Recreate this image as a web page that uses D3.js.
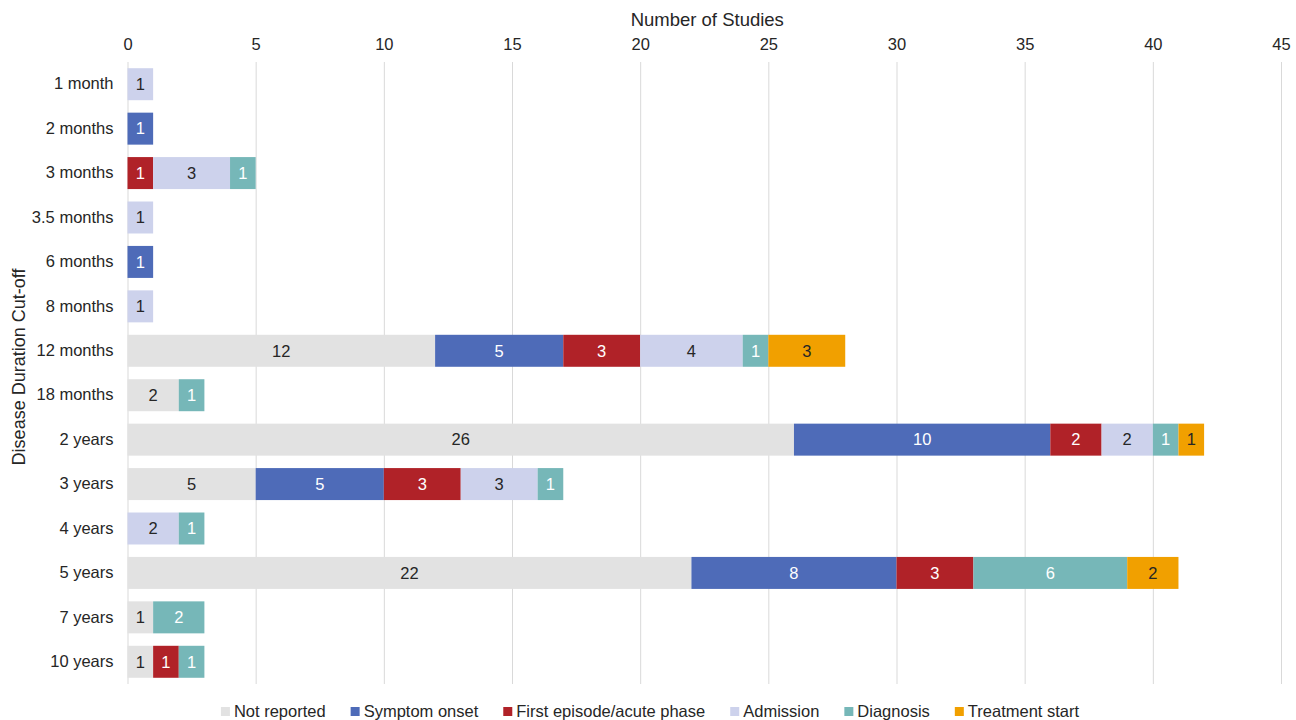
<!DOCTYPE html>
<html>
<head>
<meta charset="utf-8">
<script src="https://cdn.jsdelivr.net/npm/d3@7"></script>
<style>
  body { margin: 0; background: #fff; }
  text { font-family: 'Liberation Sans', Arial, sans-serif; }
</style>
</head>
<body>
<svg id="chart" width="1296" height="720"></svg>
<script>
// categories (top to bottom)
const categories = ['1 month', '2 months', '3 months', '3.5 months', '6 months', '8 months',
  '12 months', '18 months', '2 years', '3 years', '4 years', '5 years', '7 years', '10 years']

const seriesNames = ['Not reported', 'Symptom onset', 'First episode/acute phase', 'Admission', 'Diagnosis', 'Treatment start']

const notReported  = [0, 0, 0, 0, 0, 0, 12, 2, 26, 5, 0, 22, 1, 1]
const symptomOnset = [0, 1, 0, 0, 1, 0, 5, 0, 10, 5, 0, 8, 0, 0]
const firstEpisode = [0, 0, 1, 0, 0, 0, 3, 0, 2, 3, 0, 3, 0, 1]
const admission    = [1, 0, 3, 1, 0, 1, 4, 0, 2, 3, 2, 0, 0, 0]
const diagnosis    = [0, 0, 1, 0, 0, 0, 1, 1, 1, 1, 1, 6, 2, 1]
const treatment    = [0, 0, 0, 0, 0, 0, 3, 0, 1, 0, 0, 2, 0, 0]

const xTicks = [0, 5, 10, 15, 20, 25, 30, 35, 40, 45]

const colors = ['#e2e2e2', '#4e6bb8', '#b02228', '#cdd2ec', '#76b7b8', '#f1a000']
const labelColors = ['#262626', '#ffffff', '#ffffff', '#262626', '#ffffff', '#262626']

const seriesValues = [notReported, symptomOnset, firstEpisode, admission, diagnosis, treatment]

let rows = categories.map((c, i) => {
  let row = { cat: c }
  seriesNames.forEach((s, j) => { row[s] = seriesValues[j][i] })
  return row
})

let margin = { top: 62, right: 15, bottom: 36, left: 127.5 }
let fs = '16.5px'

let svg = d3.select('#chart')
let g = svg.append('g').attr('transform', 'translate(' + margin.left + ',' + margin.top + ')')

let xScale = d3.scaleLinear().domain([0, 45]).range([0, 1153.5])
let yScale = d3.scaleBand().domain(categories).range([0, 622]).paddingInner(0.28).paddingOuter(0.14)

// gridlines
g.selectAll('.grid')
  .data(xTicks)
  .enter()
  .append('line')
  .attr('x1', (d) => xScale(d) + 0.5)
  .attr('x2', (d) => xScale(d) + 0.5)
  .attr('y1', 0)
  .attr('y2', 622)
  .attr('stroke', '#d9d9d9')
  .attr('stroke-width', 1)

// top axis
let xAxis = d3.axisTop(xScale).tickValues(xTicks).tickSize(0).tickPadding(12)
let xg = g.append('g').call(xAxis)
xg.select('.domain').remove()
xg.selectAll('text').attr('font-size', fs).attr('fill', '#262626')
  .style('font-family', "'Liberation Sans', Arial, sans-serif")

// left axis
let yAxis = d3.axisLeft(yScale).tickSize(0).tickPadding(14)
let yg = g.append('g').call(yAxis)
yg.select('.domain').remove()
yg.selectAll('text').attr('font-size', fs).attr('fill', '#262626')
  .style('font-family', "'Liberation Sans', Arial, sans-serif")

let stack = d3.stack().keys(seriesNames)
let stacked = stack(rows)

let layers = g.selectAll('.layer')
  .data(stacked)
  .enter()
  .append('g')
  .attr('class', 'layer')

layers.selectAll('rect')
  .data((d) => d.filter((p) => p[1] > p[0]))
  .enter()
  .append('rect')
  .attr('x', (d) => xScale(d[0]))
  .attr('y', (d) => yScale(d.data.cat))
  .attr('width', (d) => xScale(d[1]) - xScale(d[0]))
  .attr('height', yScale.bandwidth())
  .attr('fill', function () { return colors[d3.select(this.parentNode).datum().index] })

layers.selectAll('text')
  .data((d) => d.filter((p) => p[1] > p[0]))
  .enter()
  .append('text')
  .attr('x', (d) => (xScale(d[0]) + xScale(d[1])) / 2)
  .attr('y', (d) => yScale(d.data.cat) + yScale.bandwidth() / 2)
  .attr('dy', '0.35em')
  .attr('text-anchor', 'middle')
  .attr('font-size', fs)
  .attr('fill', function () { return labelColors[d3.select(this.parentNode).datum().index] })
  .text((d) => d[1] - d[0])

// axis titles
svg.append('text')
  .text('Number of Studies')
  .attr('x', margin.left + xScale(22.5) + 3)
  .attr('y', 26)
  .attr('text-anchor', 'middle')
  .attr('font-size', '18.5px')
  .attr('fill', '#262626')

svg.append('text')
  .text('Disease Duration Cut-off')
  .attr('transform', 'translate(25, 367) rotate(-90)')
  .attr('text-anchor', 'middle')
  .attr('font-size', '18px')
  .attr('fill', '#262626')

// legend
let legend = svg.append('g')
let lx = 0
seriesNames.forEach((s, i) => {
  let item = legend.append('g').attr('transform', 'translate(' + lx + ',0)')
  item.append('rect').attr('x', 0).attr('y', -10).attr('width', 9).attr('height', 9).attr('fill', colors[i])
  let t = item.append('text').text(s).attr('x', 13).attr('y', 0).attr('font-size', fs).attr('fill', '#262626')
  lx += 13 + t.node().getComputedTextLength() + 25
})
lx -= 25
legend.attr('transform', 'translate(' + (650 - lx / 2) + ',717)')
</script>
</body>
</html>
